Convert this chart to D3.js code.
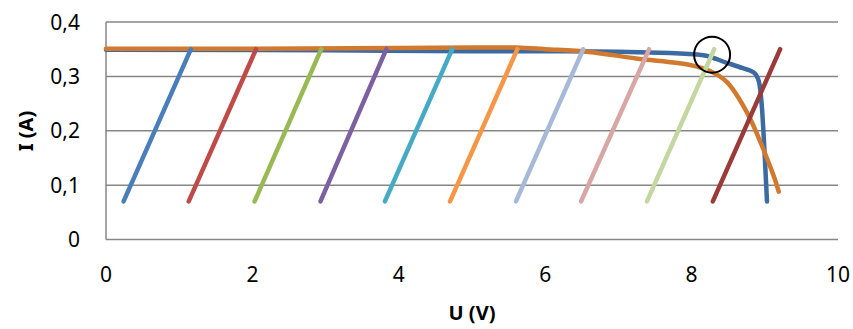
<!DOCTYPE html>
<html>
<head>
<meta charset="utf-8">
<script src="https://cdn.jsdelivr.net/npm/d3@7"></script>
<style>
  body { margin: 0; background: #fff; }
  svg { font-family: "Noto Sans", "Open Sans", sans-serif; }
</style>
</head>
<body>
<div id="main"></div>
<script>
// load lines: start/end voltages, current from 0.07 to 0.35
const loadStartU = [0.24, 1.13, 2.03, 2.93, 3.81, 4.70, 5.60, 6.49, 7.39, 8.29]
const loadEndU = [1.16, 2.05, 2.94, 3.83, 4.73, 5.62, 6.52, 7.42, 8.31, 9.21]
const loadI = [0.07, 0.35]
const loadColors = ["#4a7ebb", "#be4b48", "#98b954", "#7d60a0", "#46aac5", "#f79646",
                    "#a7b9d8", "#d7a6a5", "#c4d7a0", "#9a3b39"]

// characteristic curves
const blueU = [0, 3, 5, 6.3, 7.7, 8.16, 8.48, 8.7, 8.85, 8.92, 8.96, 9.0, 9.03]
const blueI = [0.349, 0.348, 0.346, 0.346, 0.343, 0.339, 0.325, 0.315, 0.307, 0.29, 0.244, 0.152, 0.07]
const orangeU = [0, 2, 4, 5, 5.6, 6.0, 6.6, 7.24, 7.98, 8.25, 8.48, 8.76, 8.98, 9.14, 9.19]
const orangeI = [0.351, 0.351, 0.352, 0.353, 0.353, 0.350, 0.345, 0.333, 0.321, 0.310, 0.290, 0.233, 0.166, 0.110, 0.088]

const xTicks = [0, 2, 4, 6, 8, 10]
const yTicks = [0, 0.1, 0.2, 0.3, 0.4]
const markPoint = [8.28, 0.34]

const width = 853, height = 329

let svg = d3.select('div#main').append('svg')
  .attr('width', width)
  .attr('height', height)

let x = d3.scaleLinear().domain([0, 10]).range([106, 838])
let y = d3.scaleLinear().domain([0, 0.4]).range([239.5, 22])

// gridlines
svg.append('g').selectAll('line')
  .data(yTicks.slice(1))
  .enter()
  .append('line')
    .attr('x1', x(0)).attr('x2', x(10))
    .attr('y1', d => y(d)).attr('y2', d => y(d))
    .attr('stroke', '#868686')
    .attr('stroke-width', 1.5)

// axes lines
svg.append('line')
  .attr('x1', x(0)).attr('x2', x(0))
  .attr('y1', y(0)).attr('y2', y(0.4))
  .attr('stroke', '#868686').attr('stroke-width', 1.5)
svg.append('line')
  .attr('x1', x(0)).attr('x2', x(10))
  .attr('y1', y(0)).attr('y2', y(0))
  .attr('stroke', '#868686').attr('stroke-width', 1.5)

// tick labels
const fmt = d => String(d).replace('.', ',')
svg.append('g').selectAll('text')
  .data(yTicks)
  .enter()
  .append('text')
    .attr('x', 80)
    .attr('y', d => y(d) + 7.5)
    .attr('text-anchor', 'end')
    .attr('font-size', 21)
    .attr('fill', '#000')
    .text(fmt)

svg.append('g').selectAll('text')
  .data(xTicks)
  .enter()
  .append('text')
    .attr('x', d => x(d))
    .attr('y', 282)
    .attr('text-anchor', 'middle')
    .attr('font-size', 21)
    .attr('fill', '#000')
    .text(fmt)

// axis titles
svg.append('text')
  .attr('transform', 'translate(33,131) rotate(-90)')
  .attr('text-anchor', 'middle')
  .attr('font-size', 20)
  .attr('font-weight', 'bold')
  .text('I (A)')
svg.append('text')
  .attr('x', 472)
  .attr('y', 320)
  .attr('text-anchor', 'middle')
  .attr('font-size', 20)
  .attr('font-weight', 'bold')
  .text('U (V)')

let line = d3.line()
  .x(d => x(d[0]))
  .y(d => y(d[1]))
  .curve(d3.curveMonotoneX)

svg.append('path')
  .attr('d', line(blueU.map((u, i) => [u, blueI[i]])))
  .attr('fill', 'none')
  .attr('stroke', '#3c6ba2')
  .attr('stroke-width', 4.5)
  .attr('stroke-linecap', 'round')
  .attr('stroke-linejoin', 'round')

svg.append('path')
  .attr('d', line.curve(d3.curveCatmullRom.alpha(0.5))(orangeU.map((u, i) => [u, orangeI[i]])))
  .attr('fill', 'none')
  .attr('stroke', '#d17a2f')
  .attr('stroke-width', 4.5)
  .attr('stroke-linecap', 'round')
  .attr('stroke-linejoin', 'round')

svg.append('g').selectAll('line')
  .data(loadStartU)
  .enter()
  .append('line')
    .attr('x1', d => x(d))
    .attr('y1', y(loadI[0]))
    .attr('x2', (d, i) => x(loadEndU[i]))
    .attr('y2', y(loadI[1]))
    .attr('stroke', (d, i) => loadColors[i])
    .attr('stroke-width', 4.5)
    .attr('stroke-linecap', 'round')

svg.append('circle')
  .attr('cx', x(markPoint[0]))
  .attr('cy', y(markPoint[1]))
  .attr('r', 18)
  .attr('fill', 'none')
  .attr('stroke', '#000')
  .attr('stroke-width', 2)
</script>
</body>
</html>
